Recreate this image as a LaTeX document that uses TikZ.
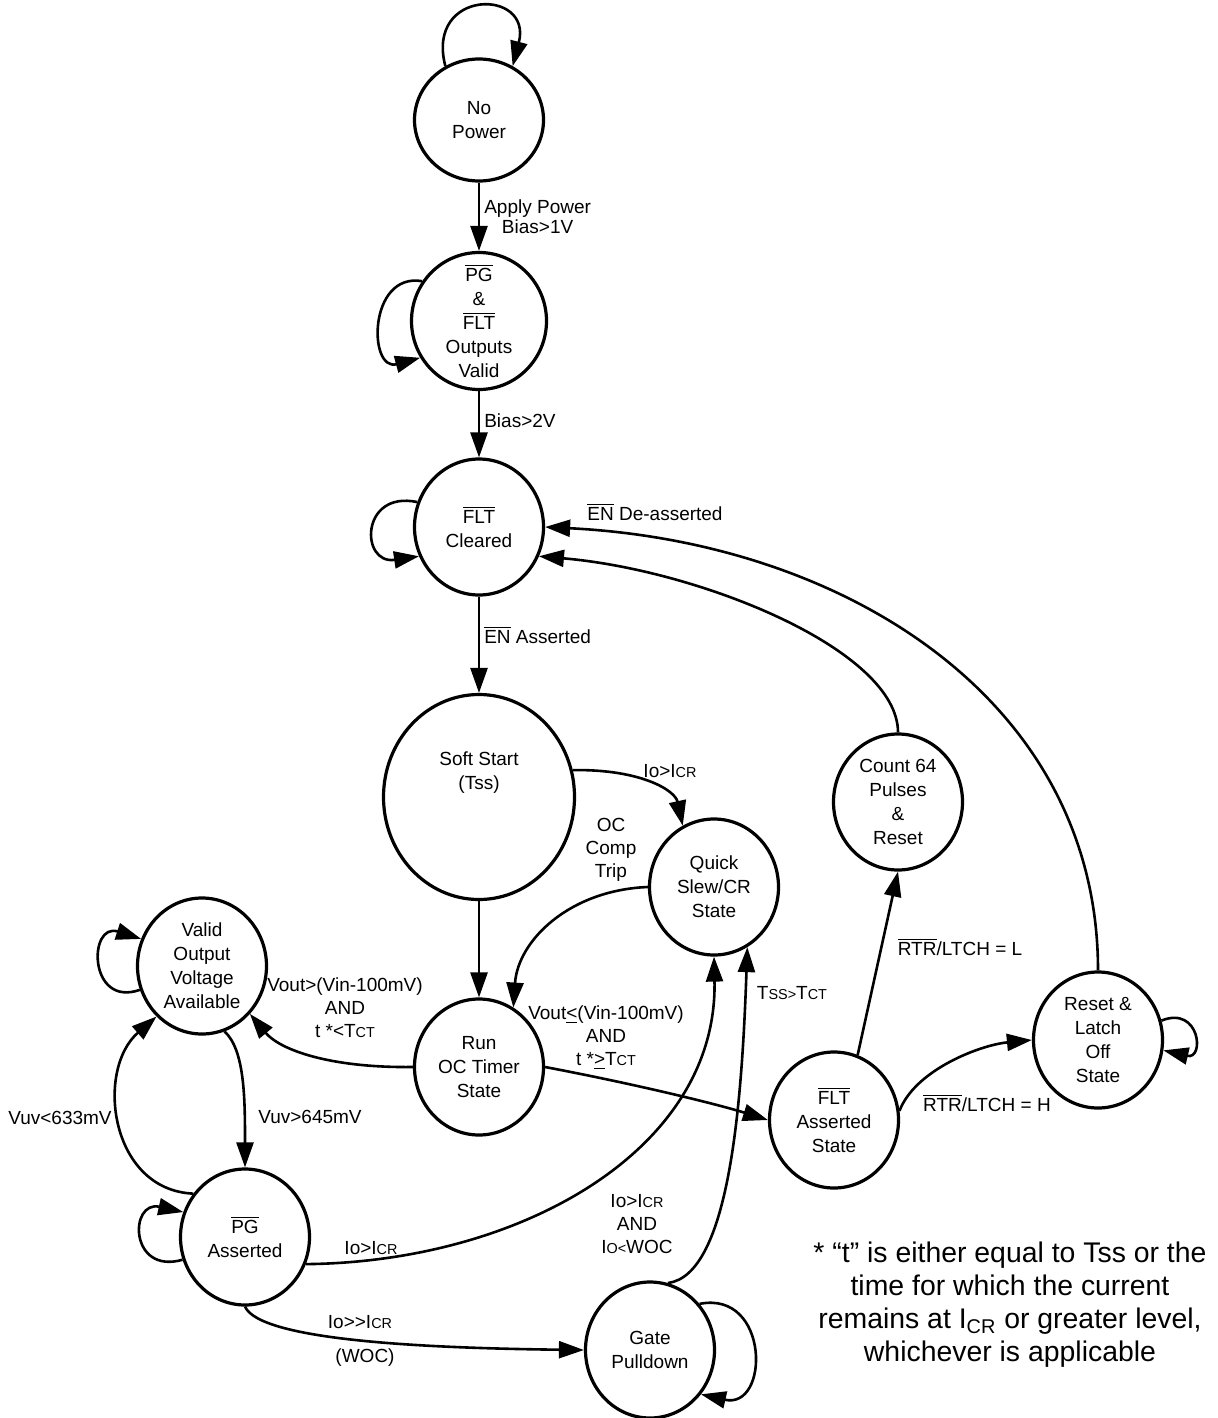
\documentclass[tikz,border=0pt]{standalone}
\usepackage{fontspec}
\setmainfont{Liberation Sans}
\usetikzlibrary{shapes.geometric,arrows.meta}
\newcommand{\ovl}[1]{$\overline{\mbox{#1}}$}
\newcommand{\lowcap}[1]{{\fontsize{7.2pt}{7.2pt}\selectfont #1}}
\begin{document}
\begin{tikzpicture}[x=0.5pt,y=-0.5pt,
  >={Triangle[length=12.5pt,width=8.5pt]},
  line width=1.3pt,
  fsm/.style={ellipse,draw,line width=1.6pt,minimum width=64.5pt,minimum height=68pt,
    inner sep=0pt,align=center,font=\fontsize{9.5pt}{12pt}\selectfont},
  lbl/.style={align=center,inner sep=2pt,font=\fontsize{9.5pt}{11.5pt}\selectfont}]
\useasboundingbox (0,0) rectangle (1217,1418);

% states
\node[fsm,minimum height=61pt] (np) at (479,120) {No\\Power};
\node[fsm,minimum width=67.5pt,minimum height=68.5pt,inner ysep=-5pt] (pgv) at (479,321)
 {\ovl{PG}\\\&\\\ovl{FLT}\\Outputs\\Valid};
\node[fsm] (fc) at (479,527) {\ovl{FLT}\\Cleared};
\node[fsm,minimum width=95.5pt,minimum height=102.5pt] (ss) at (479,797) {Soft Start\\(Tss)\\[14pt]~};
\node[fsm] (qs) at (714,887) {Quick\\Slew/CR\\State};
\node[fsm] (run) at (479,1067) {Run\\OC Timer\\State};
\node[fsm] (vo) at (202,966) {Valid\\Output\\Voltage\\Available};
\node[fsm] (pga) at (245,1237) {\ovl{PG}\\Asserted};
\node[fsm] (gp) at (650,1350) {Gate\\Pulldown};
\node[fsm] (fa) at (834,1120) {\ovl{FLT}\\Asserted\\State};
\node[fsm] (cnt) at (898,802) {Count 64\\Pulses\\\&\\Reset};
\node[fsm] (rl) at (1098,1040) {Reset \&\\Latch\\Off\\State};

% self loops
\draw[->] (np.122) .. controls (425,-12) and (533,-12) .. (np.58);
\draw[->] (pgv.145) .. controls (368,272) and (368,372) .. (pgv.212);
\draw[->] (fc.158) .. controls (360,490) and (360,565) .. (fc.206);
\draw[->] (vo.201) .. controls (88,1008) and (88,922) .. (vo.156);
\draw[->] (pga.200) .. controls (129,1275) and (129,1200) .. (pga.158);
\draw[->] (gp.43) .. controls (770,1290) and (770,1410) .. (gp.-41);
\draw[->] (rl.17) .. controls (1200,1005) and (1205,1060) .. (rl.-9);

% main column
\draw[->] (np) to node[lbl,right,font=\fontsize{9.5pt}{8.5pt}\selectfont] {Apply Power\\Bias>1V} (pgv);
\draw[->] (pgv) to node[lbl,pos=0.45,right] {Bias>2V} (fc);
\draw[->] (fc) to node[lbl,pos=0.4,right] {\ovl{EN} Asserted} (ss);
\draw[->] (ss) -- (run);

% back to FLT cleared
\draw[->] (rl.north) .. controls +(0,-270) and +(300,15) .. (fc.east);
\node[lbl] (lde) at (655,512) {\ovl{EN} De-asserted};
\draw[->] (cnt.north) .. controls (898,650) and (700,570) .. (fc.-26);

% current limit
\draw[->] (ss.16) .. controls (640,769) and (675,790) .. (qs.117);
\node[lbl] (lio1) at (670,771) {Io>I\lowcap{CR}};
\draw[->] (qs.west) .. controls (570,890) and (518,940) .. (run.60);
\node[lbl] (loc) at (611,850) {OC\\Comp\\Trip};

\draw[->] (run.west) .. controls (330,1068) and (280,1050) .. (vo.-45);
\node[lbl] (lvgood) at (345,1008) {Vout>(Vin-100mV)\\AND\\t *<T\lowcap{CT}};
\draw[->] (run.east) .. controls (640,1085) and (720,1105) .. (fa.west);
\node[lbl] (lvbad) at (606,1038) {Vout\underline{<}(Vin-100mV)\\AND\\t *\underline{>}T\lowcap{CT}};

% power good
\draw[->] (vo.-71) .. controls (245,1050) and (245,1100) .. (pga.north);
\node[lbl] (lvuvhi) at (310,1117) {Vuv>645mV};
\draw[->] (pga.140) .. controls (110,1190) and (95,1070) .. (vo.228);
\node[lbl] (lvuvlo) at (60,1118) {Vuv<633mV};

\draw[->] (pga.-24) .. controls (520,1262) and (718,1150) .. (qs.south);
\node[lbl] (lio2) at (371,1248) {Io>I\lowcap{CR}};
\draw[->] (pga.south) .. controls (260,1340) and (420,1348) .. (gp.west);
\node[lbl] (lio3) at (360,1322) {Io>{}>I\lowcap{CR}};
\node[lbl] (lwoc) at (365,1358) {(WOC)};

\draw[->] (gp.75) .. controls (730,1275) and (742,1100) .. (qs.-61);
\node[lbl] (liowoc) at (637,1224) {Io>I\lowcap{CR}\\AND\\I\lowcap{O<}WOC};
\node[lbl] (ltss) at (792,993) {T\lowcap{SS>}T\lowcap{CT}};

% fault
\draw[->] (fa.70) -- (cnt.south);
\node[lbl] (lrtrl) at (960,947) {\ovl{RTR}/LTCH = L};
\draw[->] (fa.8) .. controls (915,1070) and (980,1045) .. (rl.west);
\node[lbl] (lrtrh) at (987,1103) {\ovl{RTR}/LTCH = H};

\node[align=center,font=\fontsize{14.2pt}{16.5pt}\selectfont] (fn) at (1010,1305)
 {* “t” is either equal to Tss or the\\time for which the current\\remains at I\textsubscript{CR} or greater level,\\whichever is applicable};
\end{tikzpicture}
\end{document}
